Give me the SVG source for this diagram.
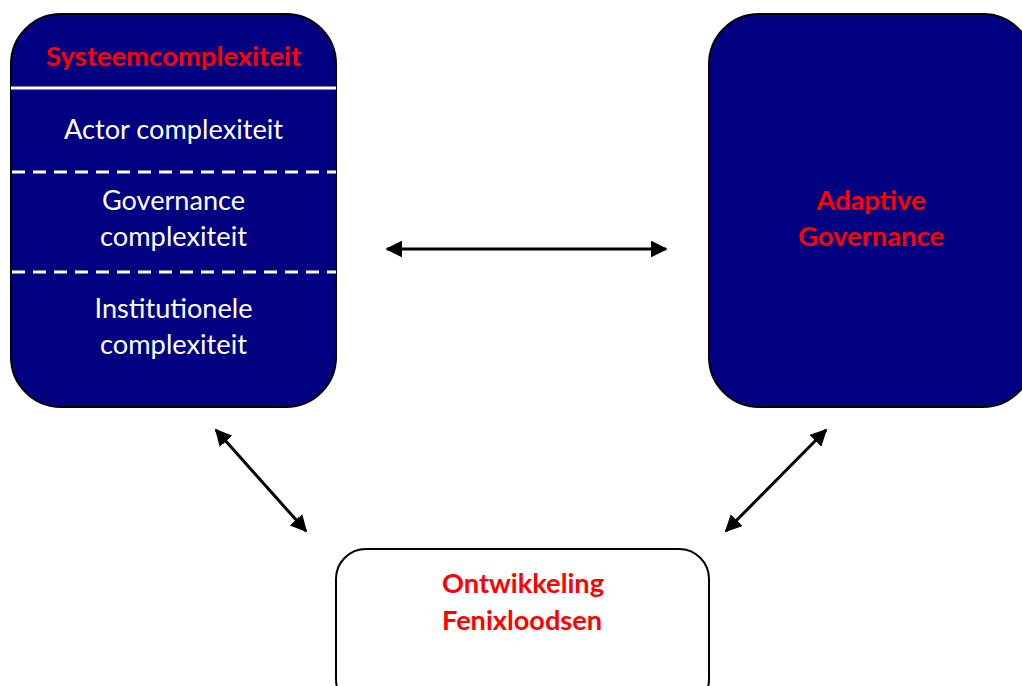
<svg xmlns="http://www.w3.org/2000/svg" width="1022" height="686" viewBox="0 0 1022 686">
<style>
.box{fill:#000080;stroke:#000;stroke-width:2}
.wbox{fill:#fff;stroke:#000;stroke-width:2}
.t{font-family:Lato,"Liberation Sans",sans-serif;font-size:26px;text-anchor:middle}
.w{fill:#fff}
.r{fill:#f00;font-weight:bold}
.sep{stroke:#fff;stroke-width:3}
.dash{stroke-dasharray:13 8}
.conn{stroke:#000;stroke-width:3;fill:none;marker-start:url(#ah);marker-end:url(#ah)}
</style>
<defs>
<marker id="ah" viewBox="0 0 10 10" refX="9" refY="5" markerWidth="5.6" markerHeight="5.6" orient="auto-start-reverse" markerUnits="strokeWidth">
<path d="M0,0 L10,5 L0,10 Z" fill="#000"/>
</marker>
</defs>
<g id="systeemcomplexiteit">
<rect class="box" x="11" y="14" width="325" height="393" rx="50" ry="50"/>
<line class="sep" x1="11" y1="88" x2="336" y2="88"/>
<line class="sep dash" x1="12" y1="172" x2="336" y2="172"/>
<line class="sep dash" x1="12" y1="272" x2="336" y2="272"/>
<text class="t r" x="173.5" y="66" textLength="255" lengthAdjust="spacingAndGlyphs">Systeemcomplexiteit</text>
<text class="t w" x="173.5" y="139" textLength="219" lengthAdjust="spacingAndGlyphs">Actor complexiteit</text>
<text class="t w" x="173.5" y="210" textLength="143" lengthAdjust="spacingAndGlyphs">Governance</text>
<text class="t w" x="173.5" y="246" textLength="147" lengthAdjust="spacingAndGlyphs">complexiteit</text>
<text class="t w" x="173.5" y="318" textLength="158" lengthAdjust="spacingAndGlyphs">Institutionele</text>
<text class="t w" x="173.5" y="354" textLength="147" lengthAdjust="spacingAndGlyphs">complexiteit</text>
</g>
<g id="adaptive-governance">
<rect class="box" x="709" y="14" width="324" height="393" rx="50" ry="50"/>
<text class="t r" x="871" y="210" textLength="109" lengthAdjust="spacingAndGlyphs">Adaptive</text>
<text class="t r" x="871" y="246" textLength="146" lengthAdjust="spacingAndGlyphs">Governance</text>
</g>
<g id="ontwikkeling-fenixloodsen">
<rect class="wbox" x="336" y="549" width="373" height="160" rx="30" ry="30"/>
<text class="t r" x="523" y="593" textLength="162" lengthAdjust="spacingAndGlyphs">Ontwikkeling</text>
<text class="t r" x="522" y="630" textLength="160" lengthAdjust="spacingAndGlyphs">Fenixloodsen</text>
</g>
<g id="connectors">
<line class="conn" x1="387" y1="249" x2="666" y2="249"/>
<line class="conn" x1="216" y1="430" x2="306" y2="531"/>
<line class="conn" x1="826" y1="430" x2="726" y2="531"/>
</g>
</svg>
